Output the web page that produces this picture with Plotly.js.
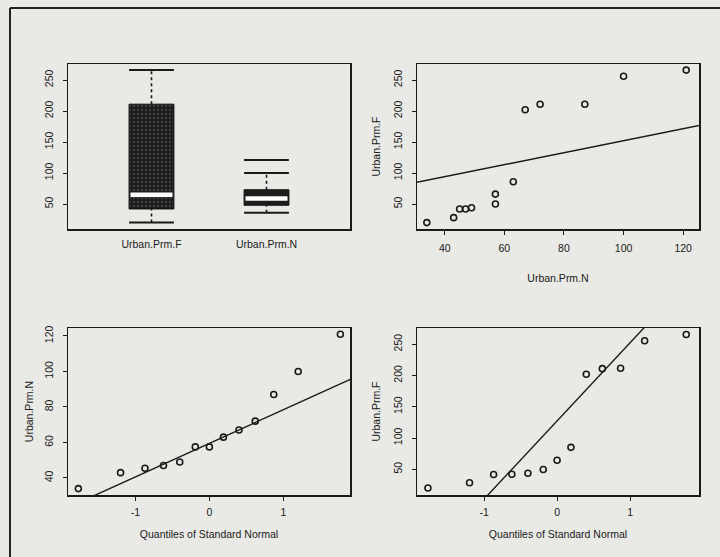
<!DOCTYPE html>
<html><head><meta charset="utf-8">
<script src="https://cdn.plot.ly/plotly-3.0.1.min.js"></script>
<style>html,body{margin:0;padding:0;background:#e9e9e6;} #chart{width:720px;height:557px;}</style>
</head><body><div id="chart"></div>
<script>
// ---- data ----
const categories = ['Urban.Prm.F', 'Urban.Prm.N'];
const boxQ1 = [42, 48];
const boxMedian = [65, 59];
const boxQ3 = [211, 73];
const whiskerLow = [20, 36];
const whiskerHigh = [266, 100];
const outlierValues = [[], [121]];

const urbanPrmN = [34, 43, 45, 47, 49, 57, 57, 63, 67, 72, 87, 100, 121];
const urbanPrmF = [20, 28, 42, 42, 44, 66, 50, 86, 202, 211, 211, 256, 266];
const fitLineN = [30, 126];
const fitLineF = [84.3, 177.4];

const normalQuantiles = [-1.77, -1.2, -0.87, -0.62, -0.4, -0.19, 0, 0.19, 0.4, 0.62, 0.87, 1.2, 1.77];
const sortedN = [34, 43, 45.5, 47, 49, 57.5, 57.5, 63, 67, 72, 87, 100, 121];
const sortedF = [20, 28.5, 41.5, 42, 43.5, 49.5, 64.5, 85, 202, 211, 211.5, 255.5, 265.5];
const qqLineQ = [-1.95, 1.95];
const qqLineN = [22.6, 96.4];
const qqLineF = [-116.4, 371.1];

const boxTicks = [50, 100, 150, 200, 250];
const nTicks = [40, 60, 80, 100, 120];
const qTicks = [-1, 0, 1];
const qTickText = ['-1', '0', '1'];

// ---- build traces ----
const ink = '#1a1a1a';
const pos = [1, 2];
const whiskX = [], whiskY = [], capX = [], capY = [], outX = [], outY = [];
pos.forEach((p, i) => {
  whiskX.push(p, p, null, p, p, null);
  whiskY.push(boxQ3[i], whiskerHigh[i], null, whiskerLow[i], boxQ1[i], null);
  capX.push(p, p); capY.push(whiskerLow[i], whiskerHigh[i]);
  outlierValues[i].forEach(v => { outX.push(p); outY.push(v); });
});

const openCircle = {symbol:'circle-open', size:6, color:ink, line:{color:ink, width:1.6}};
const capMarker = {symbol:'line-ew', size:32, color:ink, line:{color:ink, width:2}};

const traces = [
  {type:'bar', x:pos, base:boxQ1, y:boxQ3.map((v,i)=>v-boxQ1[i]), width:0.39,
   marker:{color:'#1c1c1c', line:{color:'#111', width:1},
     pattern:{shape:['.', ''], fgcolor:'#3e3e3e', bgcolor:'#1c1c1c', size:4, solidity:0.3}},
   xaxis:'x', yaxis:'y', hoverinfo:'skip'},
  {type:'scatter', mode:'lines', x:whiskX, y:whiskY, line:{color:ink, width:1.6, dash:'dot'},
   xaxis:'x', yaxis:'y', hoverinfo:'skip'},
  {type:'scatter', mode:'markers', x:capX, y:capY, marker:capMarker, xaxis:'x', yaxis:'y'},
  {type:'scatter', mode:'markers', x:outX, y:outY, marker:capMarker, xaxis:'x', yaxis:'y'},
  {type:'scatter', mode:'markers', x:pos, y:boxMedian,
   marker:{symbol:'line-ew', size:30, color:'#ffffff', line:{color:'#ffffff', width:4.5}}, xaxis:'x', yaxis:'y'},

  {type:'scatter', mode:'markers', x:urbanPrmN, y:urbanPrmF, marker:openCircle, xaxis:'x2', yaxis:'y2'},
  {type:'scatter', mode:'lines', x:fitLineN, y:fitLineF, line:{color:ink, width:1.4},
   xaxis:'x2', yaxis:'y2'},

  {type:'scatter', mode:'markers', x:normalQuantiles, y:sortedN, marker:openCircle, xaxis:'x3', yaxis:'y3'},
  {type:'scatter', mode:'lines', x:qqLineQ, y:qqLineN, line:{color:ink, width:1.4},
   xaxis:'x3', yaxis:'y3'},

  {type:'scatter', mode:'markers', x:normalQuantiles, y:sortedF, marker:openCircle, xaxis:'x4', yaxis:'y4'},
  {type:'scatter', mode:'lines', x:qqLineQ, y:qqLineF, line:{color:ink, width:1.4},
   xaxis:'x4', yaxis:'y4'}
];

// ---- layout ----
const W = 720, H = 557;
const font = {family:'Liberation Sans, Arial, sans-serif', size:10.5, color:ink};
function ax(extra) {
  return Object.assign({showline:true, mirror:true, linecolor:ink, linewidth:1.5,
    showgrid:false, zeroline:false, ticks:'outside', ticklen:4, tickwidth:1, tickcolor:ink,
    tickfont:font, ticklabelstandoff:5, fixedrange:true}, extra);
}
const colL = [68/W, 350/W], colR = [417/W, 699/W];
const rowT = [1-229/H, 1-64/H], rowB = [1-495/H, 1-328/H];

const layout = {
  width:W, height:H, margin:{l:0, r:0, t:0, b:0},
  paper_bgcolor:'#e9e9e6', plot_bgcolor:'#e9e9e6', showlegend:false, font:font,
  xaxis: ax({domain:colL, anchor:'y', range:[0.274, 2.726], tickvals:pos, ticktext:categories, ticks:''}),
  yaxis: ax({domain:rowT, anchor:'x', range:[9.7, 275.8], tickvals:boxTicks, tickangle:-90}),
  xaxis2: ax({domain:colR, anchor:'y2', range:[30.7, 125.3], tickvals:nTicks,
    title:{text:'Urban.Prm.N', font:font, standoff:21}}),
  yaxis2: ax({domain:rowT, anchor:'x2', range:[9.7, 275.8], tickvals:boxTicks, tickangle:-90,
    title:{text:'Urban.Prm.F', font:font, standoff:9}}),
  xaxis3: ax({domain:colL, anchor:'y3', range:[-1.91, 1.90], tickvals:qTicks, ticktext:qTickText,
    ticklabelstandoff:3, title:{text:'Quantiles of Standard Normal', font:font, standoff:13}}),
  yaxis3: ax({domain:rowB, anchor:'x3', range:[30.4, 124.5], tickvals:nTicks, tickangle:-90,
    title:{text:'Urban.Prm.N', font:font, standoff:7}}),
  xaxis4: ax({domain:colR, anchor:'y4', range:[-1.92, 1.945], tickvals:qTicks, ticktext:qTickText,
    ticklabelstandoff:3, title:{text:'Quantiles of Standard Normal', font:font, standoff:13}}),
  yaxis4: ax({domain:rowB, anchor:'x4', range:[8.8, 276], tickvals:boxTicks, tickangle:-90,
    title:{text:'Urban.Prm.F', font:font, standoff:9}}),
  shapes:[
    {type:'line', xref:'paper', yref:'paper', x0:10/W, x1:1, y0:1-8/H, y1:1-8/H, line:{color:'#222', width:2}},
    {type:'line', xref:'paper', yref:'paper', x0:10/W, x1:10/W, y0:0, y1:1-8/H, line:{color:'#222', width:2}}
  ]
};

Plotly.newPlot('chart', traces, layout, {staticPlot:true, displayModeBar:false});
</script>
</body></html>
